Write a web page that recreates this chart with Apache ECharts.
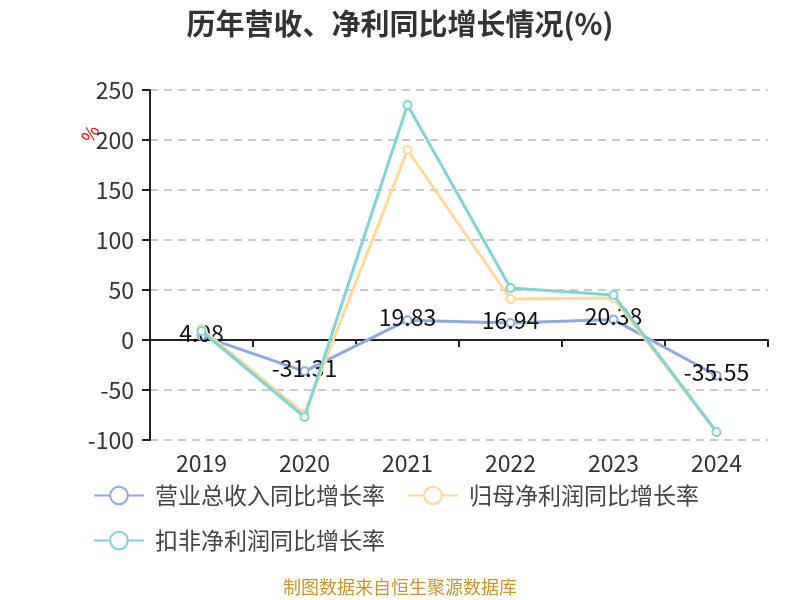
<!DOCTYPE html>
<html><head><meta charset="utf-8">
<script src="https://cdn.jsdelivr.net/npm/echarts@6/dist/echarts.min.js"></script>
<style>html,body{margin:0;padding:0;background:#fff}#c{width:800px;height:600px}</style>
</head><body><div id="c"></div>
<script>
const categories = ['2019','2020','2021','2022','2023','2024'];
const revenueGrowth = [4.08, -31.31, 19.83, 16.94, 20.38, -35.55];
const netProfitGrowth = [11, -74, 190, 41, 42, -92];
const deductedProfitGrowth = [9, -77, 235, 52, 45, -92];
const seriesNames = ['营业总收入同比增长率', '归母净利润同比增长率', '扣非净利润同比增长率'];
const yTicks = {min: -100, max: 250, interval: 50};

const colors = ['#8FAADC', '#FFD997', '#80D4D6'];
const font = 'Noto Sans CJK SC';
const chart = echarts.init(document.getElementById('c'));
function mk(name, data, i, label) {
  return {
    name, type: 'line', data,
    symbol: 'emptyCircle', symbolSize: 8,
    lineStyle: {width: 3, color: colors[i]},
    itemStyle: {color: colors[i], borderWidth: 2},
    label: label ? {show: true, position: 'inside', offset: [0, -3], fontSize: 23, color: '#111', fontFamily: font} : {show: false},
    z: 2 + i
  };
}
chart.setOption({
  animation: false,
  color: colors,
  title: {text: '历年营收、净利同比增长情况(%)', left: 'center', top: 4,
    textStyle: {fontSize: 29, fontWeight: 'bold', color: '#333', fontFamily: font}},
  grid: {left: 150, right: 32, top: 90, bottom: 160},
  legend: {
    left: 88, top: 479, width: 680, itemWidth: 50, itemHeight: 22, itemGap: 22,
    textStyle: {fontSize: 23, color: '#444', fontFamily: font, padding: [0, 0, 0, 6]},
    data: seriesNames
  },
  xAxis: {
    type: 'category', data: categories,
    axisLine: {lineStyle: {color: '#222', width: 2}},
    axisTick: {show: true, length: 7, lineStyle: {color: '#222', width: 2}},
    axisLabel: {fontSize: 23, color: '#333', fontFamily: font, margin: 12, interval: 0}
  },
  yAxis: {
    type: 'value', min: yTicks.min, max: yTicks.max, interval: yTicks.interval,
    axisLine: {show: true, lineStyle: {color: '#222', width: 2}},
    axisTick: {show: true, length: 8, lineStyle: {color: '#222', width: 2}},
    axisLabel: {fontSize: 23, color: '#333', fontFamily: font, margin: 16},
    splitLine: {lineStyle: {type: [8, 6], color: '#bbb', width: 1.5}}
  },
  graphic: [
    {type: 'text', left: 78, top: 122, rotation: Math.PI / 3,
      style: {text: '%', fill: '#e00', fontSize: 18, fontFamily: font}},
    {type: 'text', left: 'center', top: 578,
      style: {text: '制图数据来自恒生聚源数据库', fill: '#C8962A', fontSize: 18, fontFamily: font}}
  ],
  series: [
    mk(seriesNames[0], revenueGrowth, 0, true),
    mk(seriesNames[1], netProfitGrowth, 1, false),
    mk(seriesNames[2], deductedProfitGrowth, 2, false)
  ]
});
</script></body></html>
